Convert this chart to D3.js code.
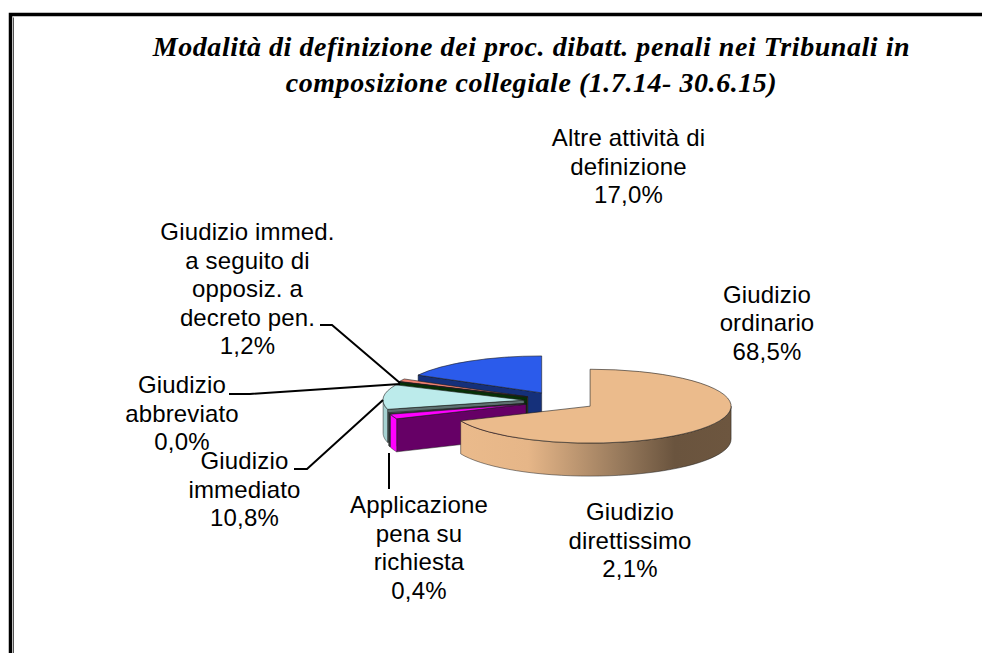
<!DOCTYPE html>
<html>
<head>
<meta charset="utf-8">
<style>html,body{margin:0;padding:0;background:#fff}svg{display:block}</style>
<script src="https://cdn.jsdelivr.net/npm/d3@7/dist/d3.min.js"></script>
</head>
<body>
<svg id="c" width="982" height="653"></svg>
<script>
const categories = ["Giudizio ordinario","Giudizio direttissimo","Applicazione pena su richiesta","Giudizio immediato","Giudizio abbreviato","Giudizio immed. a seguito di opposiz. a decreto pen.","Altre attività di definizione"];
const values = [68.5,2.1,0.4,10.8,0.0,1.2,17.0];
const valueLabels = ["68,5%","2,1%","0,4%","10,8%","0,0%","1,2%","17,0%"];
const topColors = ["#ebbb8c","#ff00ff","#6e8484","#bcebeb","#0a3d0a","#f08070","#2b5beb"];
const faceColors = ["#ebbb8c","#660066","#3a4a4a","#5d7070","#063006","#7a3a30","#15307a"];
const rimColors = ["#ebbb8c","#ff00ff","#3a4a4a","#a6d2d2","#063006","#7a3a30","#15307a"];
const labelLines = [["Giudizio","ordinario"],["Giudizio","direttissimo"],["Applicazione","pena su","richiesta"],["Giudizio","immediato"],["Giudizio","abbreviato"],["Giudizio immed.","a seguito di","opposiz. a","decreto pen."],["Altre attività di","definizione"]];
const titleLines = ["Modalità di definizione dei proc. dibatt. penali nei Tribunali in","composizione collegiale (1.7.14- 30.6.15)"];

const svg = d3.select("#c");
const cx=560, cy=401, rx=141, tilt=0.262, depth=33, explode=36;
const labelPos=[[767,302.5],[630,520],[419,513],[244.5,469],[182,393],[247.5,240],[628.5,146]];
const leaders=[
 [[320,325],[332,325],[400,383]],
 [[229,394],[250,394],[400,384]],
 [[294,469],[307,469],[383,400]],
 [[389,453],[389,489]]
];

const defs=svg.append("defs");
const grad=defs.append("linearGradient").attr("id","tan").attr("gradientUnits","userSpaceOnUse")
  .attr("x1",cx+explode*0.836-141).attr("x2",cx+explode*0.836+141).attr("y1",0).attr("y2",0);
[[0,"#ebbb8c"],[0.28,"#e6b688"],[0.62,"#94775a"],[0.8,"#6a543e"],[1,"#6d563f"]].forEach(s=>grad.append("stop").attr("offset",s[0]).attr("stop-color",s[1]));

// frame
svg.append("rect").attr("x",0).attr("y",0).attr("width",982).attr("height",653).attr("fill","#fff");
svg.append("path").attr("d","M10.5 653V14.5H982").attr("fill","none").attr("stroke","#000").attr("stroke-width",3.5);
svg.append("path").attr("d","M13.5 653V17.5").attr("fill","none").attr("stroke","#555").attr("stroke-width",1);

// title
svg.append("g").selectAll("text").data(titleLines).join("text")
  .attr("x",531.5).attr("y",(d,i)=>56+i*36).attr("text-anchor","middle")
  .attr("font-family","'Liberation Serif'").attr("font-style","italic").attr("font-weight","bold")
  .attr("font-size",28).attr("letter-spacing",0.55).attr("fill","#000").text(d=>d);

const pie=d3.pie().value(d=>d).sort(null).startAngle(0).endAngle(2*Math.PI);
const arcs=pie(values).map((d,i)=>({...d,i}));
const arcGen=d3.arc().innerRadius(0).outerRadius(rx);
const pt=(o,a)=>[o[0]+rx*Math.sin(a),o[1]-rx*tilt*Math.cos(a)];
const origin=d=>{const m=(d.startAngle+d.endAngle)/2;return [cx+explode*Math.sin(m),cy-explode*tilt*Math.cos(m)];};
const line="#1c1c1c";

const order=[6,5,4,3,2,1,0];
const pies=svg.append("g");
order.forEach(i=>{
  const d=arcs[i], o=origin(d), g=pies.append("g");
  const a0=d.startAngle,a1=d.endAngle;
  const wall=pts=>"M"+pts.map(p=>p.join(",")).join("L")+"Z";
  if(Math.sin(a0)<-1e-6){
    const e=pt(o,a0);
    g.append("path").attr("d",wall([o,e,[e[0],e[1]+depth],[o[0],o[1]+depth]])).attr("fill",faceColors[i]).attr("stroke",line).attr("stroke-width",0.5);
  }
  if(Math.sin(a1)>1e-6){
    const e=pt(o,a1);
    g.append("path").attr("d",wall([o,e,[e[0],e[1]+depth],[o[0],o[1]+depth]])).attr("fill",faceColors[i]).attr("stroke",line).attr("stroke-width",0.5);
  }
  const s=Math.max(a0,Math.PI/2), t=Math.min(a1,3*Math.PI/2);
  if(t>s){
    const angles=d3.range(0,41).map(k=>s+(t-s)*k/40);
    const top=angles.map(a=>pt(o,a));
    const bottom=angles.slice().reverse().map(a=>{const p=pt(o,a);return [p[0],p[1]+depth];});
    g.append("path").attr("d",wall(top.concat(bottom)))
      .attr("fill",i===0?"url(#tan)":rimColors[i])
      .attr("stroke",line).attr("stroke-width",0.5);
  }
  g.append("path").attr("d",arcGen(d))
    .attr("transform",`translate(${o[0]},${o[1]}) scale(1,${tilt})`)
    .attr("fill",topColors[i]).attr("stroke",line).attr("stroke-width",0.6).attr("vector-effect","non-scaling-stroke");
});

// leaders
svg.append("g").selectAll("path").data(leaders).join("path")
  .attr("d",d3.line()).attr("fill","none").attr("stroke","#000").attr("stroke-width",2);

// labels
const lab=svg.append("g").attr("font-family","'Liberation Sans'").attr("font-size",24).attr("letter-spacing",0.15).attr("fill","#000").attr("text-anchor","middle");
categories.forEach((c,i)=>{
  const rows=labelLines[i].concat(valueLabels[i]);
  const t=lab.append("text").attr("data-name",c);
  rows.forEach((r,k)=>t.append("tspan").attr("x",labelPos[i][0]).attr("y",labelPos[i][1]+k*28.6).text(r));
});
</script>
</body>
</html>
